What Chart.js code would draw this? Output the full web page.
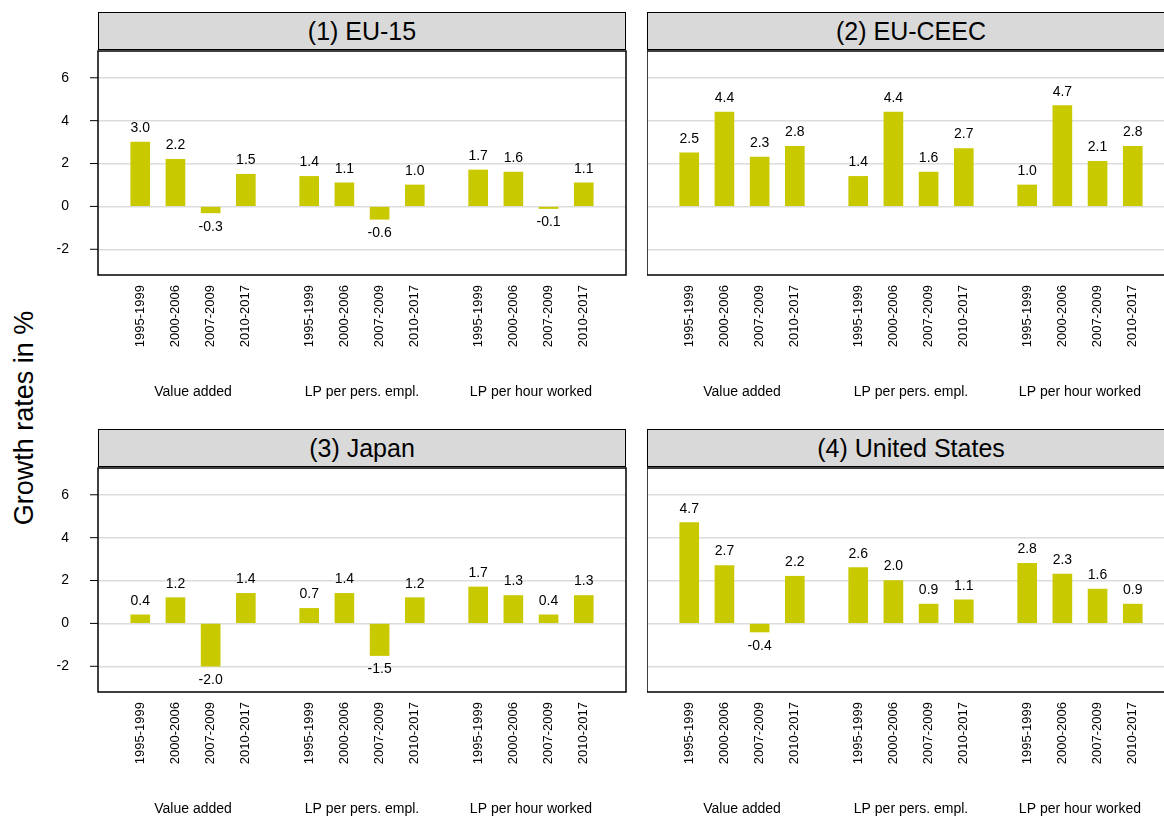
<!DOCTYPE html>
<html><head><meta charset="utf-8">
<script src="https://cdn.jsdelivr.net/npm/chart.js@4"></script>
<style>
body{margin:0;background:#fff;width:1164px;height:816px;overflow:hidden;position:relative;font-family:"Liberation Sans",Arial,sans-serif}
.title{position:absolute;background:#d9d9d9;border:1.5px solid #000;box-sizing:border-box;text-align:center;font-size:25px;line-height:36px}
.wrap{position:absolute}
#ytitle{position:absolute;left:24px;top:418px;transform:translate(-50%,-50%) rotate(-90deg);font-size:27px;white-space:nowrap}
</style></head><body>
<div id="ytitle">Growth rates in %</div>
<script>
const periods = ['1995-1999', '2000-2006', '2007-2009', '2010-2017'];
const groups = ['Value added', 'LP per pers. empl.', 'LP per hour worked'];
const panelTitles = ['(1) EU-15', '(2) EU-CEEC', '(3) Japan', '(4) United States'];
const eu15 = [3.0, 2.2, -0.3, 1.5, 1.4, 1.1, -0.6, 1.0, 1.7, 1.6, -0.1, 1.1];
const euCeec = [2.5, 4.4, 2.3, 2.8, 1.4, 4.4, 1.6, 2.7, 1.0, 4.7, 2.1, 2.8];
const japan = [0.4, 1.2, -2.0, 1.4, 0.7, 1.4, -1.5, 1.2, 1.7, 1.3, 0.4, 1.3];
const us = [4.7, 2.7, -0.4, 2.2, 2.6, 2.0, 0.9, 1.1, 2.8, 2.3, 1.6, 0.9];
const yTicks = [-2, 0, 2, 4, 6];

const GROUP_STEP = 4.8;
const pos = [];
const lbl = [];
groups.forEach((g, gi) => periods.forEach((p, pi) => { pos.push(gi * GROUP_STEP + pi); lbl.push(p); }));

const FONT = '"Liberation Sans", Arial';
const decor = {
  id: 'decor',
  afterDatasetsDraw(chart, args, opts) {
    const ctx = chart.ctx, a = chart.chartArea, x = chart.scales.x, y = chart.scales.y;
    ctx.save();
    ctx.fillStyle = '#000';
    ctx.font = '14px ' + FONT;
    ctx.textAlign = 'center';
    chart.data.datasets[0].data.forEach(d => {
      const px = x.getPixelForValue(d.x), py = y.getPixelForValue(d.y);
      if (d.y >= 0) { ctx.textBaseline = 'bottom'; ctx.fillText(d.y.toFixed(1), px, py - 7); }
      else { ctx.textBaseline = 'top'; ctx.fillText(d.y.toFixed(1), px, py + 7); }
    });
    ctx.textBaseline = 'middle';
    groups.forEach((g, gi) => {
      ctx.fillText(g, x.getPixelForValue(gi * GROUP_STEP + 1.5), a.bottom + 117);
    });
    ctx.font = '13px ' + FONT;
    ctx.textAlign = 'right';
    pos.forEach((v, i) => {
      ctx.save();
      ctx.translate(x.getPixelForValue(v), a.bottom + 10);
      ctx.rotate(-Math.PI / 2);
      ctx.fillText(lbl[i], 0, 0);
      ctx.restore();
    });
    ctx.strokeStyle = '#000';
    ctx.lineWidth = 1;
    yTicks.forEach(t => {
      const py = y.getPixelForValue(t);
      if (opts.showY) {
        ctx.font = '14px ' + FONT;
        ctx.fillText(String(t), a.left - 29, py);
        ctx.beginPath(); ctx.moveTo(a.left - 8, py); ctx.lineTo(a.left, py); ctx.stroke();
      }
    });
    ctx.lineWidth = 1.5;
    ctx.strokeRect(a.left, a.top, a.right - a.left, a.bottom - a.top);
    ctx.restore();
  }
};

function panel(idx, values, left, top, showY) {
  const width = showY ? 627 : 529;
  const areaLeft = showY ? left + 98 : left;
  const t = document.createElement('div');
  t.className = 'title';
  t.style.left = areaLeft + 'px'; t.style.top = (top - 38) + 'px';
  t.style.width = '528px'; t.style.height = '38px';
  t.textContent = panelTitles[idx];
  document.body.appendChild(t);
  const w = document.createElement('div');
  w.className = 'wrap';
  w.style.left = left + 'px'; w.style.top = top + 'px';
  w.style.width = width + 'px'; w.style.height = '360px';
  const c = document.createElement('canvas');
  w.appendChild(c);
  document.body.appendChild(w);
  new Chart(c, {
    type: 'bar',
    data: { datasets: [{ data: values.map((v, i) => ({ x: pos[i], y: v })), backgroundColor: '#c9c900', barThickness: 19 }] },
    options: {
      responsive: true, maintainAspectRatio: false, animation: false,
      layout: { padding: { top: 1, right: 1, left: 0, bottom: 0 } },
      plugins: { legend: { display: false }, tooltip: { enabled: false }, decor: { showY } },
      scales: {
        x: {
          type: 'linear', min: -1.2, max: 13.8, offset: false,
          afterFit: s => { s.height = 135; s.paddingLeft = 0; s.paddingRight = 0; },
          ticks: { display: false },
          grid: { display: false, offset: false }, border: { display: false }
        },
        y: {
          min: -3.2, max: 7.25,
          afterBuildTicks: s => { s.ticks = yTicks.map(v => ({ value: v })); },
          afterFit: s => { s.width = showY ? 98 : 0; s.paddingTop = 0; s.paddingBottom = 0; },
          ticks: { display: false },
          grid: { color: '#dcdcdc', lineWidth: 1.5, drawTicks: false },
          border: { display: false }
        }
      }
    },
    plugins: [decor]
  });
}
panel(0, eu15, 0, 50, true);
panel(1, euCeec, 647, 50, false);
panel(2, japan, 0, 467, true);
panel(3, us, 647, 467, false);
</script>
</body></html>
